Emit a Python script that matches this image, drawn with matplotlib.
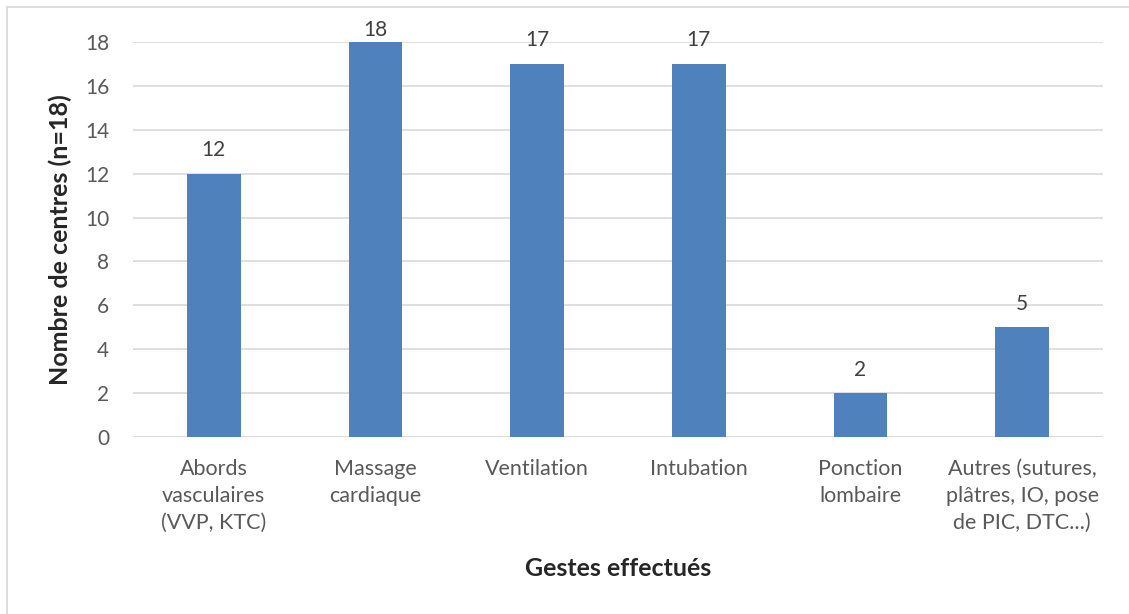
import matplotlib
matplotlib.use("Agg")
import matplotlib.pyplot as plt
from matplotlib.lines import Line2D

categories = ["Abords\nvasculaires\n(VVP, KTC)", "Massage\ncardiaque", "Ventilation",
              "Intubation", "Ponction\nlombaire", "Autres (sutures,\nplâtres, IO, pose\nde PIC, DTC...)"]
values = [12, 18, 17, 17, 2, 5]
yticks = [0, 2, 4, 6, 8, 10, 12, 14, 16, 18]

plt.rcParams['font.family'] = ['Lato', 'DejaVu Sans']

fig = plt.figure(figsize=(11.29, 6.14), dpi=100)
ax = fig.add_axes([133 / 1129, 1 - 437 / 614, 970 / 1129, 395 / 614])

x = list(range(len(values)))
ax.bar(x, values, width=0.33, color="#4F81BD", zorder=3)
# labels above bars, kept just inside the top like Excel does
for xi, v in zip(x, values):
    ax.text(xi, min(v + 0.62, 18.07), str(v), ha="center", va="bottom", fontsize=15,
            color="#404040", clip_on=False)

ax.set_xlim(-0.5, len(values) - 0.5)
ax.set_ylim(0, 18)
ax.set_yticks(yticks)
ax.set_xticks(x)
ax.set_xticklabels(categories, fontsize=15.5, color="#595959", linespacing=1.45)
ax.tick_params(axis="y", labelsize=15, labelcolor="#595959", length=0, pad=17)
ax.tick_params(axis="x", length=0, pad=15.5)
ax.yaxis.grid(True, color="#D9D9D9", linewidth=1.2, zorder=0)
for s in ax.spines.values():
    s.set_visible(False)
ax.axhline(0, color="#D9D9D9", linewidth=1.2, zorder=2)

ax.set_xlabel("Gestes effectués", fontsize=18, fontweight="bold", color="#262626")
ax.set_ylabel("Nombre de centres (n=18)", fontsize=18, fontweight="bold", color="#262626")
ax.xaxis.set_label_coords(0.5, -0.303)
ax.yaxis.set_label_coords(-0.063, 0.5)

# light frame around the chart
fig.add_artist(Line2D([7 / 1129, 7 / 1129], [1 - 7 / 614, 0], transform=fig.transFigure,
                      color="#D9D9D9", linewidth=1.2))
fig.add_artist(Line2D([7 / 1129, 1], [1 - 7 / 614, 1 - 7 / 614], transform=fig.transFigure,
                      color="#D9D9D9", linewidth=1.2))

fig.savefig("out.png", dpi=100)
